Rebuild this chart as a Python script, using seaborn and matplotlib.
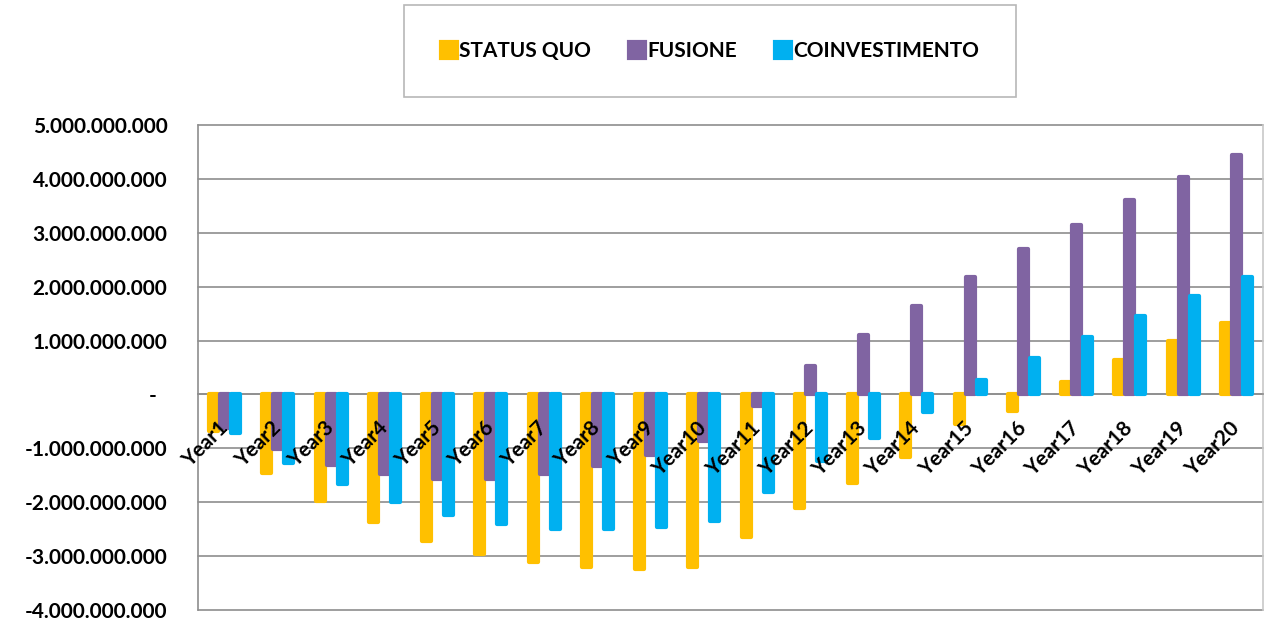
import numpy as np
import pandas as pd
import matplotlib
matplotlib.use("Agg")
import matplotlib.pyplot as plt
import seaborn as sns
from matplotlib.patches import Patch
from matplotlib.ticker import FuncFormatter

# Annual cash-flow by scenario
years = ["Year1", "Year2", "Year3", "Year4", "Year5", "Year6", "Year7", "Year8",
         "Year9", "Year10", "Year11", "Year12", "Year13", "Year14", "Year15",
         "Year16", "Year17", "Year18", "Year19", "Year20"]
scenarios = ["STATUS QUO", "FUSIONE", "COINVESTIMENTO"]

status_quo = [-0.68e9, -1.45e9, -1.98e9, -2.37e9, -2.72e9, -2.96e9, -3.11e9,
              -3.20e9, -3.23e9, -3.20e9, -2.65e9, -2.10e9, -1.65e9, -1.16e9,
              -0.55e9, -0.31e9, 0.24e9, 0.63e9, 1.00e9, 1.33e9]
fusione = [-0.62e9, -1.02e9, -1.30e9, -1.48e9, -1.56e9, -1.56e9, -1.48e9,
           -1.33e9, -1.13e9, -0.87e9, -0.22e9, 0.53e9, 1.10e9, 1.65e9,
           2.18e9, 2.69e9, 3.15e9, 3.61e9, 4.04e9, 4.44e9]
coinvestimento = [-0.72e9, -1.27e9, -1.67e9, -2.00e9, -2.24e9, -2.41e9, -2.49e9,
                  -2.49e9, -2.46e9, -2.35e9, -1.81e9, -1.24e9, -0.80e9, -0.33e9,
                  0.26e9, 0.68e9, 1.07e9, 1.46e9, 1.83e9, 2.18e9]

y_ticks = [-4e9, -3e9, -2e9, -1e9, 0, 1e9, 2e9, 3e9, 4e9, 5e9]

colors = ["#FFC000", "#8064A2", "#00B0F0"]
grid_gray = "#8E8E8E"

df = pd.DataFrame({
    "year": years * 3,
    "scenario": np.repeat(scenarios, len(years)),
    "value": status_quo + fusione + coinvestimento,
})

sns.set_theme(style="white")
plt.rcParams["font.family"] = ["Lato", "DejaVu Sans"]
plt.rcParams["font.weight"] = "bold"
plt.rcParams["text.color"] = "black"
plt.rcParams["xtick.labelcolor"] = "black"
plt.rcParams["ytick.labelcolor"] = "black"

W, H = 1276, 623
fig = plt.figure(figsize=(W / 100, H / 100), dpi=100)
ax = fig.add_axes([198 / W, 13 / H, (1263 - 198) / W, (610 - 125) / H])

sns.barplot(data=df, x="year", y="value", hue="scenario", order=years,
            hue_order=scenarios, palette=colors, saturation=1, width=0.62,
            gap=0.2, errorbar=None, legend=False, ax=ax)

# soft rounded bar ends
for p in ax.patches:
    p.set_edgecolor(p.get_facecolor())
    p.set_linewidth(3)
    p.set_joinstyle("round")
    p.set_zorder(3)

# spines first: moving a spine rebuilds the ticks
ax.spines["bottom"].set_position(("data", 0))
ax.spines["bottom"].set_color(grid_gray)
ax.spines["left"].set_color(grid_gray)
ax.spines["right"].set_color("#C8C8C8")
ax.spines["top"].set_visible(False)
for s in ("bottom", "left", "right"):
    ax.spines[s].set_linewidth(1.2)

ax.set_xlim(-0.5, len(years) - 0.5)
ax.set_ylim(y_ticks[0], y_ticks[-1])
ax.set_yticks(y_ticks)


def fmt(v, _):
    if abs(v) < 1:
        return "-  "
    return f"{v:,.0f}".replace(",", ".")


ax.yaxis.set_major_formatter(FuncFormatter(fmt))
ax.yaxis.grid(True, color=grid_gray, lw=1.2)
ax.set_axisbelow(True)

# category boundaries carry the tick marks, centres carry the labels
ax.set_xticks(np.arange(0.5, len(years) - 0.5, 1), labels=[""] * (len(years) - 1))
ax.set_xticks(np.arange(len(years)), labels=years, minor=True,
              rotation=45, rotation_mode="anchor", ha="right", va="center",
              fontweight="bold", fontsize=15, color="black")
ax.tick_params(axis="x", which="major", direction="out", length=5, width=1,
               color=grid_gray)
ax.tick_params(axis="x", which="minor", length=0, pad=22)
ax.tick_params(axis="y", direction="out", length=7, width=1, color=grid_gray,
               pad=15, labelsize=15)
for lab in ax.get_yticklabels():
    lab.set_fontweight("bold")
    lab.set_color("black")
for gl in ax.get_ygridlines():
    gl.set_clip_on(False)
# category labels sit on top of the bars
ax.xaxis.set_zorder(4)

ax.set_xlabel("")
ax.set_ylabel("")

handles = [Patch(facecolor=c, edgecolor=c, linewidth=3, joinstyle="round")
           for c in colors]
leg = fig.legend(handles, scenarios, loc="center",
                 bbox_to_anchor=(710 / W, 1 - 51 / H), ncol=3, frameon=True,
                 fancybox=False, edgecolor="#A6A6A6", fontsize=15,
                 handlelength=0.8, handleheight=0.8, handletextpad=0.1,
                 columnspacing=1.8, borderpad=1.75)
leg.get_frame().set_linewidth(1.2)
for t in leg.get_texts():
    t.set_fontweight("bold")
    t.set_color("black")

fig.savefig("out.png", dpi=100, facecolor="white")
